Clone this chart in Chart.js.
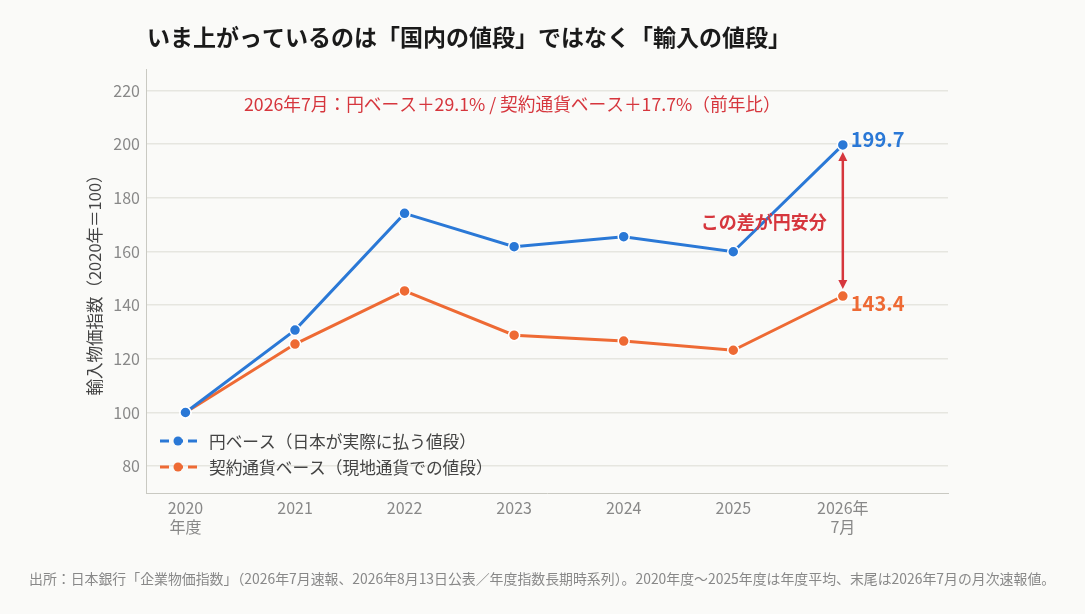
<!DOCTYPE html>
<html>
<head>
<meta charset="utf-8">
<script src="https://cdn.jsdelivr.net/npm/chart.js@4.4.0/dist/chart.umd.min.js"></script>
<style>
  html, body { margin: 0; padding: 0; background: #fafaf8; }
  #wrap { width: 1085px; height: 614px; position: relative; }
</style>
</head>
<body>
<div id="wrap"><canvas id="importChart"></canvas></div>
<script>
// 年度ラベル（x軸）
var periodLabels = [["2020", "年度"], "2021", "2022", "2023", "2024", "2025", ["2026年", "7月"]];
// 円ベース
var yenBase = [100, 130.7, 174.2, 161.8, 165.5, 159.9, 199.7];
// 契約通貨ベース
var contractBase = [100, 125.5, 145.3, 128.8, 126.6, 123.2, 143.4];
var yTicks = [80, 100, 120, 140, 160, 180, 200, 220];

var BLUE = "#2a78d6";
var ORANGE = "#ee6a34";
var RED = "#d6363d";
var FONT = "'Noto Sans CJK JP', 'Noto Sans', sans-serif";

/**
 * Title, annotations, custom legend and footnote
 */
var extrasPlugin = {
    id: "extras",
    afterDatasetsDraw: function (chart) {
        var ctx = chart.ctx;
        var xs = chart.scales.x, ys = chart.scales.y;
        var last = yenBase.length - 1;
        var xLast = xs.getPixelForValue(last);
        var yTop = ys.getPixelForValue(yenBase[last]);
        var yBot = ys.getPixelForValue(contractBase[last]);

        ctx.save();
        // title
        ctx.fillStyle = "#1a1a1a";
        ctx.font = "bold 23px " + FONT;
        ctx.textBaseline = "middle";
        ctx.textAlign = "left";
        ctx.fillText("いま上がっているのは「国内の値段」ではなく「輸入の値段」", 147, 37);

        // top note
        ctx.fillStyle = RED;
        ctx.font = "17.7px " + FONT;
        ctx.fillText("2026年7月：円ベース＋29.1% / 契約通貨ベース＋17.7%（前年比）", 244, 104);

        // double arrow
        var a1 = yTop + 7, a2 = yBot - 7;
        ctx.strokeStyle = RED;
        ctx.fillStyle = RED;
        ctx.lineWidth = 2.5;
        ctx.beginPath();
        ctx.moveTo(xLast, a1 + 6);
        ctx.lineTo(xLast, a2 - 6);
        ctx.stroke();
        ctx.beginPath();
        ctx.moveTo(xLast, a1);
        ctx.lineTo(xLast - 4.5, a1 + 9);
        ctx.lineTo(xLast + 4.5, a1 + 9);
        ctx.closePath();
        ctx.fill();
        ctx.beginPath();
        ctx.moveTo(xLast, a2);
        ctx.lineTo(xLast - 4.5, a2 - 9);
        ctx.lineTo(xLast + 4.5, a2 - 9);
        ctx.closePath();
        ctx.fill();

        ctx.font = "bold 18px " + FONT;
        ctx.textAlign = "right";
        ctx.fillText("この差が円安分", xLast - 16, 222);

        // end value labels
        ctx.textAlign = "left";
        ctx.font = "bold 20px " + FONT;
        ctx.fillStyle = BLUE;
        ctx.fillText(yenBase[last].toFixed(1), xLast + 8, yTop - 6);
        ctx.fillStyle = ORANGE;
        ctx.fillText(contractBase[last].toFixed(1), xLast + 8, yBot + 7);

        // legend
        var items = [
            { color: BLUE, text: "円ベース（日本が実際に払う値段）", y: 441 },
            { color: ORANGE, text: "契約通貨ベース（現地通貨での値段）", y: 467 }
        ];
        items.forEach(function (it) {
            ctx.strokeStyle = it.color;
            ctx.fillStyle = it.color;
            ctx.lineWidth = 3;
            ctx.setLineDash([9, 5]);
            ctx.beginPath();
            ctx.moveTo(160, it.y);
            ctx.lineTo(197, it.y);
            ctx.stroke();
            ctx.setLineDash([]);
            ctx.beginPath();
            ctx.arc(178, it.y, 4.5, 0, Math.PI * 2);
            ctx.fill();
            ctx.fillStyle = "#444";
            ctx.font = "16.7px " + FONT;
            ctx.fillText(it.text, 209, it.y + 1);
        });

        // footnote
        ctx.fillStyle = "#888";
        ctx.font = "13.9px " + FONT;
        ctx.fillText("出所：日本銀行「企業物価指数」（2026年7月速報、2026年8月13日公表／年度指数長期時系列）。2020年度〜2025年度は年度平均、末尾は2026年7月の月次速報値。", 29, 579);
        ctx.restore();
    }
};

function makeChart() {
    var ctx = document.getElementById("importChart").getContext("2d");
    var toPoints = function (arr) {
        return arr.map(function (v, i) { return { x: i, y: v }; });
    };

    var chart = new Chart(ctx, {
        type: "line",
        data: {
            datasets: [{
                label: "円ベース（日本が実際に払う値段）",
                data: toPoints(yenBase),
                borderColor: BLUE,
                backgroundColor: BLUE,
                borderWidth: 3,
                pointRadius: 5.5,
                pointBorderColor: "#ffffff",
                pointBorderWidth: 1.5,
                tension: 0
            }, {
                label: "契約通貨ベース（現地通貨での値段）",
                data: toPoints(contractBase),
                borderColor: ORANGE,
                backgroundColor: ORANGE,
                borderWidth: 3,
                pointRadius: 5.5,
                pointBorderColor: "#ffffff",
                pointBorderWidth: 1.5,
                tension: 0
            }]
        },
        options: {
            responsive: true,
            maintainAspectRatio: false,
            animation: false,
            layout: { padding: { left: 85, top: 69, right: 137, bottom: 0 } },
            plugins: {
                legend: { display: false },
                tooltip: { enabled: false }
            },
            scales: {
                x: {
                    type: "linear",
                    min: -0.36,
                    max: 6.96,
                    afterBuildTicks: function (scale) {
                        scale.ticks = periodLabels.map(function (l, i) { return { value: i }; });
                    },
                    afterFit: function (scale) { scale.height = 121; },
                    grid: { display: false, drawTicks: false },
                    border: { color: "#c9c9c2", width: 1 },
                    ticks: {
                        padding: 5,
                        color: "#888",
                        font: { family: FONT, size: 16 },
                        maxRotation: 0,
                        autoSkip: false,
                        callback: function (v) { return periodLabels[v]; }
                    }
                },
                y: {
                    min: 70,
                    max: 228,
                    afterBuildTicks: function (scale) {
                        scale.ticks = yTicks.map(function (v) { return { value: v }; });
                    },
                    afterFit: function (scale) { scale.width = 61; },
                    grid: { color: "#e6e6e0", lineWidth: 1.5, drawTicks: false },
                    border: { color: "#c9c9c2", width: 1 },
                    ticks: {
                        padding: 6,
                        color: "#888",
                        font: { family: FONT, size: 16 }
                    },
                    title: {
                        display: true,
                        text: "輸入物価指数（2020年＝100）",
                        color: "#444",
                        font: { family: FONT, size: 16.5 },
                        padding: { top: 0, bottom: 0 }
                    }
                }
            }
        },
        plugins: [extrasPlugin]
    });
    return chart;
}

makeChart();
</script>
</body>
</html>
